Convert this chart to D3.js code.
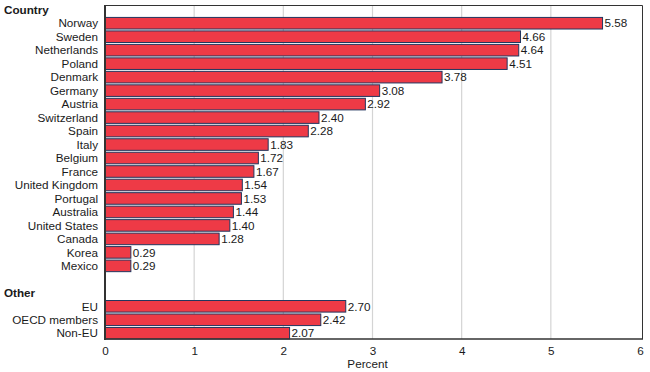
<!DOCTYPE html>
<html>
<head>
<meta charset="utf-8">
<script src="https://cdn.jsdelivr.net/npm/d3@7"></script>
<style>
  body { margin: 0; background: #fff; }
  svg text { font-family: "Liberation Sans", Arial, sans-serif; font-size: 11.7px; fill: #1a1a1a; }
</style>
</head>
<body>
<svg id="chart" width="650" height="372"></svg>
<script>
var countries = ['Norway', 'Sweden', 'Netherlands', 'Poland', 'Denmark', 'Germany', 'Austria',
    'Switzerland', 'Spain', 'Italy', 'Belgium', 'France', 'United Kingdom', 'Portugal',
    'Australia', 'United States', 'Canada', 'Korea', 'Mexico'];
var countryValues = [5.58, 4.66, 4.64, 4.51, 3.78, 3.08, 2.92, 2.40, 2.28, 1.83, 1.72, 1.67,
    1.54, 1.53, 1.44, 1.40, 1.28, 0.29, 0.29];
var others = ['EU', 'OECD members', 'Non-EU'];
var otherValues = [2.70, 2.42, 2.07];
var xTicks = [0, 1, 2, 3, 4, 5, 6];

// one slot per line: group header, rows, a blank line, next header, rows
var slots = ['h:Country'].concat(countries, ['blank', 'h:Other'], others);
var rows = countries.map(function(c, i) { return { name: c, value: countryValues[i] }; })
    .concat(others.map(function(c, i) { return { name: c, value: otherValues[i] }; }));

var svg = d3.select('#chart');
var plotLeft = 105, plotRight = 640, plotTop = 5, plotBottom = 339;

var x = d3.scaleLinear().domain([0, 6]).range([plotLeft, plotRight]);
var y = d3.scaleBand().domain(slots).range([plotTop - 2, plotBottom + 1]).paddingInner(0.14).paddingOuter(0.07);

// grid lines
svg.append('g').selectAll('line')
    .data(xTicks.slice(1, -1))
    .enter().append('line')
    .attr('x1', function(d) { return x(d); }).attr('x2', function(d) { return x(d); })
    .attr('y1', plotTop).attr('y2', plotBottom)
    .attr('stroke', '#d4d4d4').attr('stroke-width', 1.2);

// frame top and right
svg.append('path')
    .attr('d', 'M' + plotLeft + ',' + (plotTop + 0.5) + 'H' + (plotRight + 2.5) + 'V' + plotBottom)
    .attr('fill', 'none').attr('stroke', '#333').attr('stroke-width', 1);

// bars
svg.append('g').selectAll('rect')
    .data(rows)
    .enter().append('rect')
    .attr('x', x(0))
    .attr('y', function(d) { return y(d.name); })
    .attr('width', function(d) { return x(d.value) - x(0); })
    .attr('height', y.bandwidth())
    .attr('fill', '#ee3a46')
    .attr('stroke', '#22365e')
    .attr('stroke-width', 1);

// value labels
svg.append('g').selectAll('text')
    .data(rows)
    .enter().append('text')
    .attr('x', function(d) { return x(d.value) + 2; })
    .attr('y', function(d) { return y(d.name) + y.bandwidth() / 2; })
    .attr('dy', '0.36em')
    .text(function(d) { return d.value.toFixed(2); });

// category labels
svg.append('g').selectAll('text')
    .data(rows)
    .enter().append('text')
    .attr('x', plotLeft - 7)
    .attr('y', function(d) { return y(d.name) + y.bandwidth() / 2; })
    .attr('dy', '0.36em')
    .attr('text-anchor', 'end')
    .text(function(d) { return d.name; });

// group headers
svg.append('g').selectAll('text')
    .data(slots.filter(function(s) { return s.indexOf('h:') === 0; }))
    .enter().append('text')
    .attr('x', 4)
    .attr('y', function(d) { return y(d) + y.bandwidth() / 2; })
    .attr('dy', '0.36em')
    .style('font-weight', 'bold')
    .text(function(d) { return d.slice(2); });

// left and bottom axes
svg.append('line')
    .attr('x1', plotLeft).attr('x2', plotLeft).attr('y1', plotTop).attr('y2', plotBottom + 1)
    .attr('stroke', '#333').attr('stroke-width', 2);
svg.append('line')
    .attr('x1', plotLeft).attr('x2', plotRight + 3).attr('y1', plotBottom).attr('y2', plotBottom)
    .attr('stroke', '#333').attr('stroke-width', 1.5);

var xAxis = d3.axisBottom(x).tickValues(xTicks).tickSize(0).tickPadding(8).tickFormat(d3.format('d'));
var gx = svg.append('g').attr('transform', 'translate(0,' + plotBottom + ')').call(xAxis);
gx.select('.domain').remove();
gx.selectAll('text').style('font-family', '"Liberation Sans", Arial, sans-serif').style('font-size', '11.7px').attr('fill', '#1a1a1a');

svg.append('text')
    .attr('x', (plotLeft + plotRight) / 2 - 5)
    .attr('y', 368)
    .attr('text-anchor', 'middle')
    .text('Percent');
</script>
</body>
</html>
